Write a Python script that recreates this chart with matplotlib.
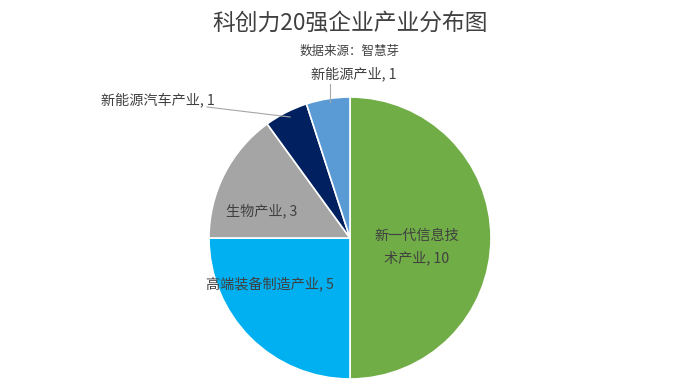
import matplotlib
matplotlib.use("Agg")
import matplotlib.pyplot as plt

plt.rcParams['font.family'] = ['Noto Sans CJK SC', 'DejaVu Sans']

# data
industries = ['新一代信息技术产业', '高端装备制造产业', '生物产业', '新能源汽车产业', '新能源产业']
counts = [10, 5, 3, 1, 1]
slice_colors = ['#70AD47', '#00B0F0', '#A5A5A5', '#002060', '#5B9BD5']

W, H = 700, 383
fig = plt.figure(figsize=(W / 100, H / 100), dpi=100)
fig.patch.set_facecolor('white')

cx, cy, r = 350, 238, 141
ax = fig.add_axes([(cx - r) / W, (H - cy - r) / H, 2 * r / W, 2 * r / H])
ax.pie(counts, colors=slice_colors, startangle=90, counterclock=False,
       wedgeprops=dict(edgecolor='white', linewidth=1.2))
ax.set_xlim(-1, 1)
ax.set_ylim(-1, 1)
ax.set_aspect('equal')
ax.axis('off')

txt = '#404040'
fig.text(0.5, 1 - 23 / H, '科创力20强企业产业分布图', ha='center', va='center',
         fontsize=16.4, color=txt)
fig.text(0.5, 1 - 51 / H, '数据来源：智慧芽', ha='center', va='center',
         fontsize=9, color=txt)


def px(x, y):
    return x / W, 1 - y / H


lbl = dict(fontsize=10.2, color=txt, va='center')
fig.text(*px(417, 247), '新一代信息技\n术产业, %d' % counts[0], ha='center',
         linespacing=1.6, **lbl)
fig.text(*px(270, 284), '%s, %d' % (industries[1], counts[1]), ha='center', **lbl)
fig.text(*px(262, 211), '%s, %d' % (industries[2], counts[2]), ha='center', **lbl)
fig.text(*px(158, 100), '%s, %d' % (industries[3], counts[3]), ha='center', **lbl)
fig.text(*px(354, 74), '%s, %d' % (industries[4], counts[4]), ha='center', **lbl)

# leader lines
fig.add_artist(plt.Line2D([207 / W, 290 / W], [1 - 107 / H, 1 - 117 / H],
                          color='#A6A6A6', linewidth=0.8))
fig.add_artist(plt.Line2D([330 / W, 330 / W], [1 - 84 / H, 1 - 102 / H],
                          color='#A6A6A6', linewidth=0.8))

fig.savefig('out.png', dpi=100)
